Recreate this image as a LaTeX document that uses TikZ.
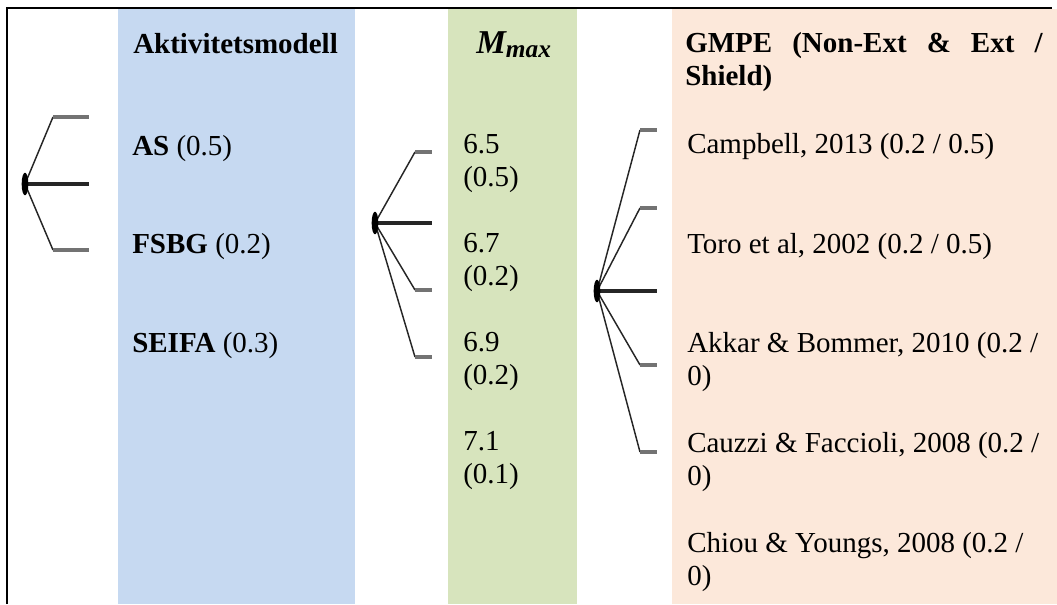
\documentclass[tikz,border=0pt]{standalone}
\usepackage{fontspec}
\setmainfont{Liberation Serif}
\usetikzlibrary{shapes.geometric}
\definecolor{colblue}{HTML}{C6D9F1}
\definecolor{colgreen}{HTML}{D7E4BD}
\definecolor{colpeach}{HTML}{FCE8DA}
\tikzset{
  txt/.style={anchor=base west, inner sep=0pt, align=left, font=\fontsize{21.75pt}{24.75pt}\selectfont},
  hdr/.style={txt, font=\fontsize{21.75pt}{24.75pt}\selectfont\bfseries},
  rootdot/.style={ellipse, fill=black, minimum width=5pt, minimum height=17pt, inner sep=0pt},
  leg/.style={line width=1.1pt, black!85},
  stub/.style={line width=3pt, black!55},
  midstub/.style={line width=3pt, black!85},
}
\begin{document}
\begin{tikzpicture}[x=0.75pt,y=-0.75pt]
\useasboundingbox (0,0) rectangle (1057,604);
% column backgrounds
\fill[colblue] (118,9) rectangle (355,604);
\fill[colgreen] (448,9) rectangle (577,604);
\fill[colpeach] (672,9) rectangle (1057,604);
% frame
\draw[line width=2pt] (7,604) -- (7,8) -- (1052,8);
% headers
\node[hdr] (h1) at (133,53) {Aktivitetsmodell};
\node[hdr] (h2) at (476,53) {\fontsize{25pt}{28pt}\selectfont\itshape M\raisebox{-0.3ex}{\fontsize{19pt}{22pt}\selectfont max}};
\node[hdr] (h3) at (685,85) {\makebox[268pt][s]{GMPE (Non-Ext \& Ext /}\\Shield)};
% column 1
\node[txt] (as) at (132,155) {\textbf{AS} (0.5)};
\node[txt] (fsbg) at (132,253) {\textbf{FSBG} (0.2)};
\node[txt] (seifa) at (132,352) {\textbf{SEIFA} (0.3)};
% column 2
\node[txt] (m1) at (463,186) {6.5\\(0.5)};
\node[txt] (m2) at (463,285) {6.7\\(0.2)};
\node[txt] (m3) at (463,384) {6.9\\(0.2)};
\node[txt] (m4) at (463,483) {7.1\\(0.1)};
% column 3
\node[txt] (g1) at (687,153) {Campbell, 2013 (0.2 / 0.5)};
\node[txt] (g2) at (687,253) {Toro et al, 2002 (0.2 / 0.5)};
\node[txt] (g3) at (687,385) {Akkar \& Bommer, 2010 (0.2 /\\0)};
\node[txt] (g4) at (687,485) {Cauzzi \& Faccioli, 2008 (0.2 /\\0)};
\node[txt] (g5) at (687,585) {Chiou \& Youngs, 2008 (0.2 /\\0)};
% tree 1
\coordinate (k1a) at (53,117); \coordinate (e1a) at (89,117);
\coordinate (e1b) at (89,184);
\coordinate (k1c) at (53,250); \coordinate (e1c) at (89,250);
\draw[leg] (25,184) -- (k1a);
\draw[leg] (25,184) -- (k1c);
\draw[stub] (k1a) -- (e1a);
\draw[stub] (k1c) -- (e1c);
\draw[midstub] (25,184) -- (e1b);
\node[rootdot] (r1) at (25,184) {};
% tree 2
\coordinate (k2a) at (415,152); \coordinate (e2a) at (432,152);
\coordinate (e2b) at (432,223);
\coordinate (k2c) at (415,290); \coordinate (e2c) at (432,290);
\coordinate (k2d) at (415,357); \coordinate (e2d) at (432,357);
\draw[leg] (375,223) -- (k2a);
\draw[leg] (375,223) -- (k2c);
\draw[leg] (375,223) -- (k2d);
\draw[stub] (k2a) -- (e2a);
\draw[stub] (k2c) -- (e2c);
\draw[stub] (k2d) -- (e2d);
\draw[midstub] (375,223) -- (e2b);
\node[rootdot] (r2) at (375,223) {};
% tree 3
\coordinate (k3a) at (640,130); \coordinate (e3a) at (657,130);
\coordinate (k3b) at (640,208); \coordinate (e3b) at (657,208);
\coordinate (e3c) at (657,291);
\coordinate (k3d) at (640,365); \coordinate (e3d) at (657,365);
\coordinate (k3e) at (640,452); \coordinate (e3e) at (657,452);
\draw[leg] (597,291) -- (k3a);
\draw[leg] (597,291) -- (k3b);
\draw[leg] (597,291) -- (k3d);
\draw[leg] (597,291) -- (k3e);
\draw[stub] (k3a) -- (e3a);
\draw[stub] (k3b) -- (e3b);
\draw[stub] (k3d) -- (e3d);
\draw[stub] (k3e) -- (e3e);
\draw[midstub] (597,291) -- (e3c);
\node[rootdot] (r3) at (597,291) {};
\end{tikzpicture}
\end{document}
